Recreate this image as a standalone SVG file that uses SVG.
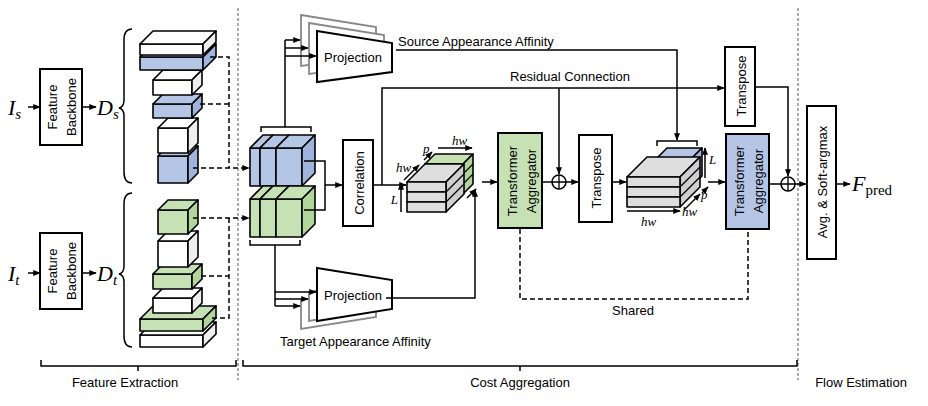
<svg xmlns="http://www.w3.org/2000/svg" width="928" height="406" viewBox="0 0 928 406">
<defs>
<marker id="a" viewBox="0 0 10 10" refX="9" refY="5" markerWidth="5" markerHeight="5" orient="auto"><path d="M0,1L10,5L0,9z" fill="#000"/></marker>
<style>
.t{font-family:"Liberation Sans",Arial,sans-serif;font-size:13px;fill:#000}
.m{font-family:"Liberation Serif","Times New Roman",serif;font-style:italic;fill:#000}
.b{fill:#fff;stroke:#000;stroke-width:2}
.l{fill:none;stroke:#000;stroke-width:1.5}
.ar{fill:none;stroke:#000;stroke-width:1.5;marker-end:url(#a)}
.d{fill:none;stroke:#000;stroke-width:1.5;stroke-dasharray:5,3}
.sep{stroke:#555;stroke-width:1;stroke-dasharray:3,2}
.c{stroke:#000;stroke-width:1.6;stroke-linejoin:round}
.w{fill:#fff}.wr{fill:#eee}
.bl{fill:#b4c5e6}.blr{fill:#9fb3dc}
.gr{fill:#c6e2b5}.grr{fill:#b2d59c}
.gy{fill:#dedede}.gyr{fill:#cfcfcf}
.pg{fill:#fff;stroke:#888;stroke-width:1.8}
</style>
</defs>
<line class="sep" x1="238" y1="8" x2="238" y2="380"/>
<line class="sep" x1="798" y1="8" x2="798" y2="380"/>

<g id="inputs">
<text class="m" x="8" y="115" font-size="22">I<tspan font-size="15" dy="4">s</tspan></text>
<text class="m" x="8" y="281" font-size="22">I<tspan font-size="15" dy="4">t</tspan></text>
<line class="ar" x1="28" y1="107" x2="40" y2="107"/>
<line class="ar" x1="28" y1="273" x2="40" y2="273"/>
</g>
<g id="backbone_s"><rect class="b" x="40" y="69" width="42" height="76"/>
<text class="t" transform="translate(61,107) rotate(-90)" text-anchor="middle" font-size="15.5"><tspan x="0" dy="-4">Feature</tspan><tspan x="0" dy="19">Backbone</tspan></text></g>
<g id="backbone_t"><rect class="b" x="40" y="233" width="42" height="76"/>
<text class="t" transform="translate(61,271) rotate(-90)" text-anchor="middle" font-size="15.5"><tspan x="0" dy="-4">Feature</tspan><tspan x="0" dy="19">Backbone</tspan></text></g>
<g id="D">
<line class="ar" x1="82" y1="107" x2="96" y2="107"/>
<line class="ar" x1="82" y1="273" x2="96" y2="273"/>
<text class="m" x="97" y="115" font-size="22">D<tspan font-size="15" dy="4">s</tspan></text>
<text class="m" x="97" y="281" font-size="22">D<tspan font-size="15" dy="4">t</tspan></text>
<path class="l" d="M132,29 Q124,29 124,40 L124,100 Q124,107 119,108 Q124,109 124,116 L124,172 Q124,183 132,183" stroke-width="1.2"/>
<path class="l" d="M132,193 Q124,193 124,204 L124,266 Q124,273 119,274 Q124,275 124,282 L124,336 Q124,347 132,347" stroke-width="1.2"/>
</g>

<g id="stack_s">
<g class="c"><rect class="bl" x="158" y="156" width="30" height="27"/><path class="bl" d="M158,156l10,-10h30l-10,10z"/><path class="blr" d="M188,156l10,-10v27l-10,10z"/></g>
<g class="c"><rect class="w" x="158" y="128" width="30" height="25"/><path class="w" d="M158,128l10,-10h30l-10,10z"/><path class="wr" d="M188,128l10,-10v25l-10,10z"/></g>
<g class="c"><rect class="bl" x="153" y="104" width="39" height="14"/><path class="bl" d="M153,104l10,-10h39l-10,10z"/><path class="blr" d="M192,104l10,-10v14l-10,10z"/></g>
<g class="c"><rect class="w" x="153" y="80" width="39" height="15"/><path class="w" d="M153,80l10,-10h39l-10,10z"/><path class="wr" d="M192,80l10,-10v15l-10,10z"/></g>
<g class="c"><rect class="bl" x="140" y="57" width="63" height="13"/><path class="bl" d="M140,57l13,-13h63l-13,13z"/><path class="blr" d="M203,57l13,-13v13l-13,13z"/></g>
<g class="c"><rect class="w" x="140" y="44" width="63" height="11"/><path class="w" d="M140,44l13,-13h63l-13,13z"/><path class="wr" d="M203,44l13,-13v11l-13,13z"/></g>
</g>
<g id="stack_t">
<g class="c"><rect class="w" x="140" y="335" width="63" height="12"/><path class="w" d="M140,335l13,-13h63l-13,13z"/><path class="wr" d="M203,335l13,-13v12l-13,13z"/></g>
<g class="c"><rect class="gr" x="140" y="319" width="63" height="12"/><path class="gr" d="M140,319l13,-13h63l-13,13z"/><path class="grr" d="M203,319l13,-13v12l-13,13z"/></g>
<g class="c"><rect class="w" x="153" y="298" width="39" height="15"/><path class="w" d="M153,298l10,-10h39l-10,10z"/><path class="wr" d="M192,298l10,-10v15l-10,10z"/></g>
<g class="c"><rect class="gr" x="153" y="274" width="39" height="15"/><path class="gr" d="M153,274l10,-10h39l-10,10z"/><path class="grr" d="M192,274l10,-10v15l-10,10z"/></g>
<g class="c"><rect class="w" x="158" y="241" width="30" height="26"/><path class="w" d="M158,241l10,-10h30l-10,10z"/><path class="wr" d="M188,241l10,-10v26l-10,10z"/></g>
<g class="c"><rect class="gr" x="158" y="210" width="30" height="24"/><path class="gr" d="M158,210l10,-10h30l-10,10z"/><path class="grr" d="M188,210l10,-10v24l-10,10z"/></g>
</g>

<g id="cube_s">
<g class="c"><rect class="bl" x="250" y="148" width="10" height="38"/><path class="bl" d="M250,148l13,-13h10l-13,13z"/></g>
<g class="c"><rect class="bl" x="260" y="148" width="16" height="38"/><path class="bl" d="M260,148l13,-13h16l-13,13z"/></g>
<g class="c"><rect class="bl" x="276" y="148" width="26" height="38"/><path class="bl" d="M276,148l13,-13h26l-13,13z"/><path class="blr" d="M302,148l13,-13v38l-13,13z"/></g>
</g>
<g id="cube_t">
<g class="c"><rect class="gr" x="250" y="199" width="10" height="38"/><path class="gr" d="M250,199l13,-13h10l-13,13z"/></g>
<g class="c"><rect class="gr" x="260" y="199" width="16" height="38"/><path class="gr" d="M260,199l13,-13h16l-13,13z"/></g>
<g class="c"><rect class="gr" x="276" y="199" width="26" height="38"/><path class="gr" d="M276,199l13,-13h26l-13,13z"/><path class="grr" d="M302,199l13,-13v38l-13,13z"/></g>
</g>

<g id="proj_s">
<path class="pg" d="M301,15l75,12v29l-75,10z"/>
<path class="pg" d="M309,23l75,12v29l-75,10z"/>
<path class="b" d="M317,31l75,12v29l-75,10z"/>
<text class="t" x="353" y="62" text-anchor="middle" font-size="16">Projection</text>
</g>
<g id="proj_t">
<path class="pg" d="M301,284l75,-12v29l-75,12z" transform="translate(0,16)"/>
<path class="pg" d="M309,276l75,-12v29l-75,12z" transform="translate(0,16)"/>
<path class="b" d="M317,268l75,12v29l-75,12z"/>
<text class="t" x="353" y="300" text-anchor="middle" font-size="16">Projection</text>
</g>
<g id="correlation"><rect class="b" x="343" y="140" width="30" height="86"/>
<text class="t" transform="translate(364,183) rotate(-90)" text-anchor="middle" font-size="15.5">Correlation</text></g>

<g id="cost1">
<g class="c"><path class="gr" d="M425,164l10,-10h38l-10,10z"/><path class="grr" d="M463,164l10,-10v30l-10,10z"/><rect class="gr" x="425" y="164" width="38" height="30"/></g>
<line x1="463" y1="174" x2="473" y2="164" stroke="#000" stroke-width="1.2"/><line x1="463" y1="184" x2="473" y2="174" stroke="#000" stroke-width="1.2"/>
<g class="c"><path class="gy" d="M407,182l18,-18h39l-18,18z"/><path class="gyr" d="M446,182l18,-18v30l-18,18z"/>
<rect class="gy" x="407" y="182" width="39" height="10"/><rect class="gy" x="407" y="192" width="39" height="10"/><rect class="gy" x="407" y="202" width="39" height="10"/></g>
<line x1="446" y1="192" x2="464" y2="174" stroke="#000" stroke-width="1.2"/><line x1="446" y1="202" x2="464" y2="184" stroke="#000" stroke-width="1.2"/>
<line class="ar" x1="401" y1="212" x2="401" y2="183" stroke-width="1"/>
<line class="ar" x1="404" y1="180" x2="419" y2="165" stroke-width="1"/>
<line class="ar" x1="424" y1="160" x2="432" y2="152" stroke-width="1"/>
<line class="ar" x1="438" y1="148" x2="472" y2="148" stroke-width="1"/>
<line class="ar" x1="467" y1="198" x2="476" y2="189" stroke-width="1"/>
<text class="m" x="398" y="204" font-size="13" text-anchor="end">L</text>
<text class="m" x="396" y="172" font-size="13">hw</text>
<text class="m" x="423" y="153" font-size="13">p</text>
<text class="m" x="452" y="145" font-size="13">hw</text>
</g>

<g id="ta1"><rect class="b" x="498" y="133" width="44" height="95" style="fill:#c6e2b5"/>
<text class="t" transform="translate(521,181) rotate(-90)" text-anchor="middle" font-size="16"><tspan x="0" dy="-4">Transformer</tspan><tspan x="0" dy="19">Aggregator</tspan></text></g>
<g id="plus1"><circle cx="559" cy="182" r="7" fill="#fff" stroke="#000" stroke-width="1.5"/><path d="M552,182h14M559,175v14" stroke="#000" stroke-width="1.3"/></g>
<g id="transpose1"><rect class="b" x="579" y="135" width="33" height="87"/>
<text class="t" transform="translate(601,178) rotate(-90)" text-anchor="middle" font-size="15.5">Transpose</text></g>

<g id="cost2">
<g class="c"><path class="bl" d="M655,160l12,-12h35l-12,12z"/><path class="blr" d="M690,160l12,-12v28l-12,12z"/><rect class="bl" x="655" y="160" width="35" height="28"/></g>
<g class="c"><path class="gy" d="M627,177l20,-20h53l-20,20z"/><path class="gyr" d="M680,177l20,-20v30l-20,20z"/>
<rect class="gy" x="627" y="177" width="53" height="10"/><rect class="gy" x="627" y="187" width="53" height="10"/><rect class="gy" x="627" y="197" width="53" height="10"/></g>
<line x1="680" y1="187" x2="700" y2="167" stroke="#000" stroke-width="1.2"/><line x1="680" y1="197" x2="700" y2="177" stroke="#000" stroke-width="1.2"/>
<path class="l" d="M657,146v-5h40v5" stroke-width="1.3"/>
<line class="ar" x1="705" y1="178" x2="705" y2="148" stroke-width="1"/>
<line class="ar" x1="627" y1="211" x2="680" y2="211" stroke-width="1"/>
<line class="ar" x1="684" y1="210" x2="700" y2="194" stroke-width="1"/>
<line class="ar" x1="702" y1="193" x2="708" y2="187" stroke-width="1"/>
<text class="m" x="709" y="164" font-size="13">L</text>
<text class="m" x="701" y="199" font-size="13">p</text>
<text class="m" x="682" y="216" font-size="13">hw</text>
<text class="m" x="641" y="226" font-size="13">hw</text>
</g>
<g id="ta2"><rect class="b" x="726" y="134" width="43" height="95" style="fill:#b4c5e6"/>
<text class="t" transform="translate(748,181) rotate(-90)" text-anchor="middle" font-size="16"><tspan x="0" dy="-4">Transformer</tspan><tspan x="0" dy="19">Aggregator</tspan></text></g>
<g id="transpose2"><rect class="b" x="725" y="47" width="30" height="79"/>
<text class="t" transform="translate(746,86) rotate(-90)" text-anchor="middle" font-size="15.5">Transpose</text></g>
<g id="plus2"><circle cx="788" cy="184" r="7" fill="#fff" stroke="#000" stroke-width="1.5"/><path d="M781,184h14M788,177v14" stroke="#000" stroke-width="1.3"/></g>
<g id="avg"><rect class="b" x="807" y="106" width="29" height="153"/>
<text class="t" transform="translate(827,182) rotate(-90)" text-anchor="middle" font-size="15.5">Avg. &amp; Soft-argmax</text></g>
<g id="fpred"><text class="m" x="852" y="191" font-size="22">F<tspan font-style="normal" font-size="15" dy="4">pred</tspan></text></g>

<g id="connectors">
<path class="d" d="M210,57H229V168"/>
<line class="d" x1="200" y1="104" x2="229" y2="104"/>
<path class="ar" d="M193,168H249" stroke-dasharray="5,3"/>
<path class="ar" d="M193,218H249" stroke-dasharray="5,3"/>
<path class="d" d="M229,218V318H210"/>
<line class="d" x1="201" y1="276" x2="229" y2="276"/>
<path class="l" d="M261,132v-5h50v5M285,127V40" stroke-width="1.3"/>
<line class="ar" x1="285" y1="40" x2="300" y2="40" stroke-width="1.2"/>
<line class="ar" x1="285" y1="48" x2="308" y2="48" stroke-width="1.2"/>
<line class="ar" x1="285" y1="56" x2="316" y2="56" stroke-width="1.2"/>
<path class="l" d="M250,240v5h50v-5M275,245V306" stroke-width="1.3"/>
<line class="ar" x1="275" y1="292" x2="316" y2="292" stroke-width="1.2"/>
<line class="ar" x1="275" y1="299" x2="308" y2="299" stroke-width="1.2"/>
<line class="ar" x1="275" y1="306" x2="300" y2="306" stroke-width="1.2"/>
<path class="l" d="M304,161H325V210H304"/>
<line class="ar" x1="325" y1="185" x2="342" y2="185"/>
<line class="ar" x1="373" y1="185" x2="406" y2="185"/>
<path class="ar" d="M382,185V88H724"/>
<path class="ar" d="M559,88V174"/>
<path class="ar" d="M396,50H677V140"/>
<path class="ar" d="M386,298H475V190"/>
<line class="ar" x1="482" y1="182" x2="497" y2="182"/>
<line class="l" x1="542" y1="182" x2="552" y2="182"/>
<line class="ar" x1="566" y1="182" x2="578" y2="182"/>
<line class="ar" x1="612" y1="182" x2="626" y2="182"/>
<line class="ar" x1="708" y1="182" x2="725" y2="182"/>
<line class="l" x1="769" y1="184" x2="781" y2="184"/>
<path class="ar" d="M755,87H788V176"/>
<line class="ar" x1="795" y1="184" x2="806" y2="184"/>
<line class="ar" x1="836" y1="184" x2="850" y2="184"/>
<path class="d" d="M520,229V299H748V229"/>
<text class="t" x="633" y="315" text-anchor="middle" font-size="12.5">Shared</text>
<text class="t" x="398" y="46" font-size="12.5">Source Appearance Affinity</text>
<text class="t" x="510" y="81" font-size="12.5">Residual Connection</text>
<text class="t" x="280" y="346" font-size="12.5">Target Appearance Affinity</text>
</g>

<g id="brackets">
<path class="l" d="M41,360v6h195v-6M138,366v5" stroke-width="1.3"/>
<path class="l" d="M243,360v6h554v-6M520,366v5" stroke-width="1.3"/>
<text class="t" x="125" y="387" text-anchor="middle" font-size="15">Feature Extraction</text>
<text class="t" x="520" y="387" text-anchor="middle" font-size="15">Cost Aggregation</text>
<text class="t" x="861" y="387" text-anchor="middle" font-size="15">Flow Estimation</text>
</g>
</svg>
